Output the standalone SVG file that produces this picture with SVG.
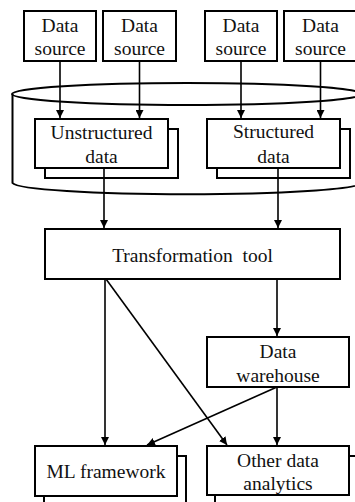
<svg xmlns="http://www.w3.org/2000/svg" width="355" height="502" viewBox="0 0 355 502">
  <style>
    .box { fill: #fff; stroke: #000; stroke-width: 2; }
    .lbl { font-family: "Liberation Serif", "Times New Roman", serif; font-size: 19.5px; fill: #111; text-anchor: middle; }
    .edge { fill: none; stroke: #000; stroke-width: 1.6; marker-end: url(#arrow); }
    .line { fill: none; stroke: #000; stroke-width: 1.6; }
    .store { fill: none; stroke: #000; stroke-width: 2; }
  </style>
  <defs>
    <marker id="arrow" viewBox="0 0 10 10" refX="10" refY="5" markerWidth="8" markerHeight="8" markerUnits="userSpaceOnUse" orient="auto">
      <path d="M0,0 L10,5 L0,10 z" fill="#000"/>
    </marker>
  </defs>

  <rect width="355" height="502" fill="#fff"/>

  <!-- storage cylinder holding the raw data -->
  <g id="storage">
    <path class="store" d="M12.5,94 L12.5,183 A175,12 0 0 0 362,183 L362,94"/>
    <ellipse class="store" cx="187" cy="94" rx="175" ry="11"/>
  </g>

  <!-- data sources -->
  <g id="source1">
    <rect class="box" x="24" y="11" width="72" height="50"/>
    <text class="lbl" x="60" y="32">Data</text>
    <text class="lbl" x="60" y="55">source</text>
  </g>
  <g id="source2">
    <rect class="box" x="103" y="11" width="73" height="50"/>
    <text class="lbl" x="139.5" y="32">Data</text>
    <text class="lbl" x="139.5" y="55">source</text>
  </g>
  <g id="source3">
    <rect class="box" x="205" y="11" width="72" height="50"/>
    <text class="lbl" x="241" y="32">Data</text>
    <text class="lbl" x="241" y="55">source</text>
  </g>
  <g id="source4">
    <rect class="box" x="284" y="11" width="73" height="50"/>
    <text class="lbl" x="320.5" y="32">Data</text>
    <text class="lbl" x="320.5" y="55">source</text>
  </g>

  <!-- stacked data stores -->
  <g id="unstructured">
    <rect class="box" x="45" y="129" width="133" height="49"/>
    <rect class="box" x="35" y="119" width="133" height="49"/>
    <text class="lbl" x="101.5" y="139">Unstructured</text>
    <text class="lbl" x="101.5" y="163">data</text>
  </g>
  <g id="structured">
    <rect class="box" x="217" y="129" width="133" height="49"/>
    <rect class="box" x="207" y="119" width="133" height="49"/>
    <text class="lbl" x="273.5" y="138">Structured</text>
    <text class="lbl" x="273.5" y="163">data</text>
  </g>

  <g id="transform">
    <rect class="box" x="45" y="229" width="295" height="50"/>
    <text class="lbl" x="192.5" y="262" xml:space="preserve">Transformation  tool</text>
  </g>

  <g id="warehouse">
    <rect class="box" x="207" y="337" width="142" height="50"/>
    <text class="lbl" x="278" y="358">Data</text>
    <text class="lbl" x="278" y="382">warehouse</text>
  </g>

  <g id="ml">
    <rect class="box" x="44" y="456" width="142" height="60"/>
    <rect class="box" x="35" y="446" width="142" height="50"/>
    <text class="lbl" x="106" y="478">ML framework</text>
  </g>

  <g id="analytics">
    <rect class="box" x="215" y="456" width="142" height="60"/>
    <rect class="box" x="207" y="446" width="142" height="49"/>
    <text class="lbl" x="278" y="467">Other data</text>
    <text class="lbl" x="278" y="490">analytics</text>
  </g>

  <!-- connectors -->
  <g id="connectors">
    <line class="edge" x1="60" y1="61" x2="60" y2="118"/>
    <line class="edge" x1="139.5" y1="61" x2="139.5" y2="118"/>
    <line class="edge" x1="241" y1="61" x2="241" y2="118"/>
    <line class="edge" x1="320.5" y1="61" x2="320.5" y2="118"/>
    <line class="edge" x1="104" y1="168" x2="104" y2="228"/>
    <line class="edge" x1="278" y1="168" x2="278" y2="228"/>
    <line class="edge" x1="105" y1="279" x2="105" y2="445"/>
    <line class="edge" x1="106" y1="279" x2="227" y2="445"/>
    <line class="edge" x1="277" y1="279" x2="277" y2="336"/>
    <line class="edge" x1="277" y1="387" x2="147" y2="445"/>
    <line class="edge" x1="277" y1="387" x2="277" y2="445"/>
  </g>
</svg>
